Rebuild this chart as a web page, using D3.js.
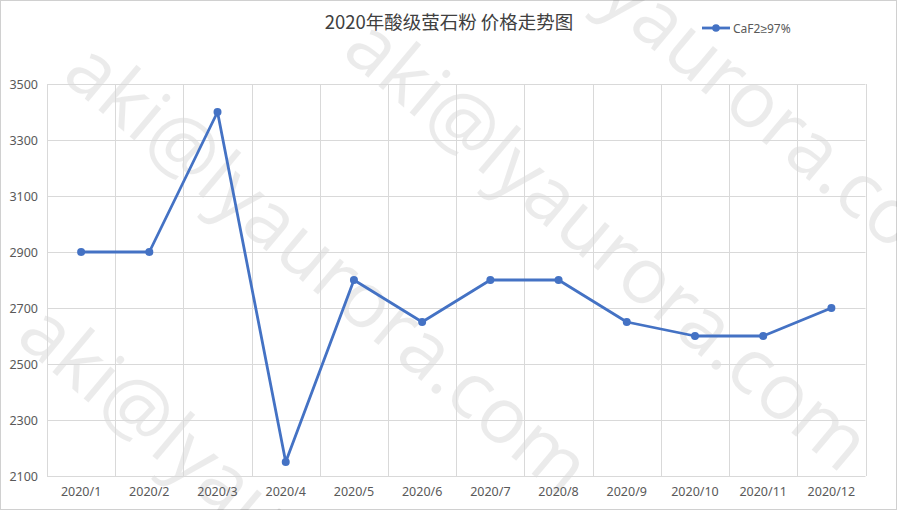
<!DOCTYPE html>
<html><head><meta charset="utf-8">
<script src="https://cdn.jsdelivr.net/npm/d3@7/dist/d3.min.js"></script>
<style>
html,body{margin:0;padding:0;background:#fff;}
svg{display:block;font-family:"Noto Sans CJK SC","Noto Sans",sans-serif;}
</style></head><body>
<svg id="c" width="897" height="510"></svg>
<script>
const categories = ["2020/1","2020/2","2020/3","2020/4","2020/5","2020/6","2020/7","2020/8","2020/9","2020/10","2020/11","2020/12"];
const values = [2900,2900,3400,2150,2800,2650,2800,2800,2650,2600,2600,2700];
const yTicks = [2100,2300,2500,2700,2900,3100,3300,3500];
const seriesName = "CaF2≥97%";
const title = "2020年酸级萤石粉 价格走势图";
const watermark = "aki@lyaurora.com";

const W = 897, H = 510;
const m = {l:47, r:31.5, t:84, b:34};
const svg = d3.select("#c");
svg.append("rect").attr("x",0.5).attr("y",0.5).attr("width",W-1).attr("height",H-1)
  .attr("fill","#fff").attr("stroke","#d0d0d0");

const x = d3.scaleBand().domain(categories).range([m.l, W-m.r]);
const y = d3.scaleLinear().domain([2100,3500]).range([H-m.b, m.t]);

// watermarks
const wm = svg.append("g");
[[60,78],[340,54],[448,-122],[14,340]].forEach(p=>{
  wm.append("text").attr("transform",`translate(${p[0]},${p[1]}) rotate(40)`)
    .attr("font-family","'Open Sans','Noto Sans',sans-serif").attr("font-size",78)
    .attr("fill","#000").attr("fill-opacity",0.08).text(watermark);
});

// grid
const g = svg.append("g");
g.selectAll(".hg").data(yTicks).join("line")
  .attr("x1",m.l).attr("x2",W-m.r).attr("y1",d=>Math.round(y(d))+0.5).attr("y2",d=>Math.round(y(d))+0.5)
  .attr("stroke","#d9d9d9");
const bounds = categories.map(c=>x(c)).concat([W-m.r]);
g.selectAll(".vg").data(bounds).join("line")
  .attr("x1",d=>Math.round(d)+0.5).attr("x2",d=>Math.round(d)+0.5).attr("y1",m.t).attr("y2",H-m.b)
  .attr("stroke","#d9d9d9");

// axes
const ya = svg.append("g").attr("transform",`translate(${m.l},0)`)
  .call(d3.axisLeft(y).tickValues(yTicks).tickSize(0).tickPadding(9).tickFormat(d3.format("d")));
ya.select(".domain").remove();
ya.selectAll("text").attr("font-size",12.5).attr("fill","#595959").attr("font-family","'Noto Sans',sans-serif");
const xa = svg.append("g").attr("transform",`translate(0,${H-m.b})`)
  .call(d3.axisBottom(x).tickSize(0).tickPadding(11));
xa.select(".domain").remove();
xa.selectAll("text").attr("font-size",12.5).attr("fill","#595959").attr("font-family","'Noto Sans',sans-serif");

// line
const cx = d=>x(d)+x.bandwidth()/2;
svg.append("path").datum(values.map((v,i)=>[categories[i],v]))
  .attr("fill","none").attr("stroke","#4472C4").attr("stroke-width",2.8).attr("stroke-linejoin","round")
  .attr("d", d3.line().x(d=>cx(d[0])).y(d=>y(d[1])));
svg.selectAll(".pt").data(values).join("circle")
  .attr("cx",(d,i)=>cx(categories[i])).attr("cy",d=>y(d)).attr("r",4).attr("fill","#4472C4");

// title
svg.append("text").attr("x",449).attr("y",29).attr("text-anchor","middle")
  .attr("font-size",18.5).attr("fill","#404040").text(title);

// legend
const lg = svg.append("g").attr("transform","translate(702,28)");
lg.append("line").attr("x1",0).attr("x2",28).attr("stroke","#4472C4").attr("stroke-width",2.8);
lg.append("circle").attr("cx",14).attr("r",3.8).attr("fill","#4472C4");
lg.append("text").attr("x",31).attr("y",4.5).attr("font-size",12).attr("fill","#595959")
  .attr("font-family","'Noto Sans',sans-serif").text(seriesName);
</script>
</body></html>
